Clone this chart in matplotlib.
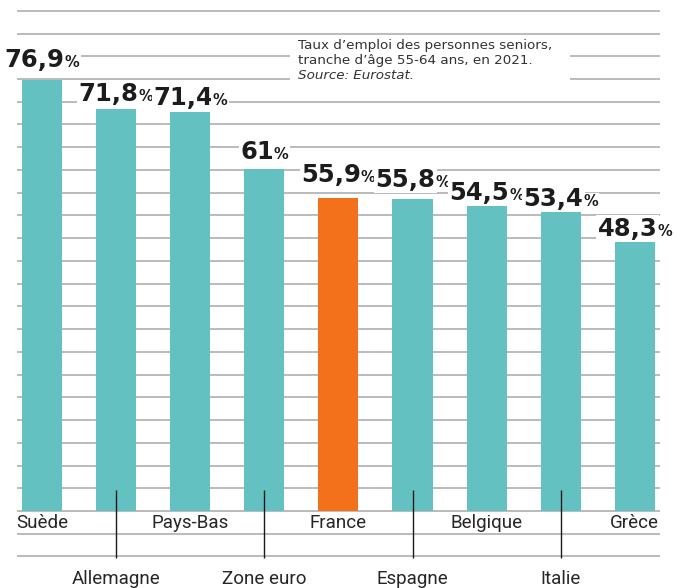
import matplotlib.pyplot as plt
from matplotlib.patches import Rectangle
import numpy as np

# data
countries = ["Suède", "Allemagne", "Pays-Bas", "Zone euro", "France",
             "Espagne", "Belgique", "Italie", "Grèce"]
values = [76.9, 71.8, 71.4, 61.0, 55.9, 55.8, 54.5, 53.4, 48.3]
value_labels = ["76,9", "71,8", "71,4", "61", "55,9", "55,8", "54,5", "53,4", "48,3"]
highlight = "France"

note_lines = ["Taux d\u2019emploi des personnes seniors,",
              "tranche d\u2019âge 55-64 ans, en 2021."]
note_source = "Source: Eurostat."

# style
TEAL = "#63c2c1"
ORANGE = "#f2711a"
GRID = "#a8a8a8"
label_gap = [13, 8, 6, 10, 16, 12, 6, 6, 5]   # px between bar top and its label
grid_step = 4.06

W, H, DPI = 690, 588, 100
fig = plt.figure(figsize=(W / DPI, H / DPI), dpi=DPI)
ax = fig.add_axes([0, 0, 1, 1])
ax.set_xlim(-0.567, 8.745)
ax.set_ylim(-13.75, 91.25)
ax.axis("off")

x = np.arange(len(countries))
colors = [ORANGE if c == highlight else TEAL for c in countries]
ax.bar(x, values, width=0.54, color=colors, zorder=3)

# horizontal rules
grid_vals = grid_step * np.arange(-2, 23)
ax.hlines(grid_vals, -0.34, 8.34, color=GRID, lw=1.1, zorder=1)

# white box behind the note
ax.add_patch(Rectangle((290 / W, 1 - 88 / H), 280 / W, 52 / H,
                       transform=fig.transFigure, fc="white", ec="none", zorder=2))
fig.text(298 / W, 1 - 39 / H, "\n".join(note_lines), fontsize=9.7,
         family="DejaVu Sans", color="#333333", va="top", linespacing=1.2)
fig.text(298 / W, 1 - 69 / H, note_source, fontsize=9.7, family="DejaVu Sans",
         style="italic", color="#333333", va="top")

# category labels, alternating rows
for i, name in enumerate(countries):
    if i % 2 == 0:
        ax.text(i, -2.1, name, ha="center", va="center", fontsize=13.5,
                family="Roboto", color="#262626", zorder=4)
    else:
        ax.vlines(i, -8.4, 3.75, color="#1a1a1a", lw=1.0, zorder=4)
        ax.text(i, -12.1, name, ha="center", va="center", fontsize=13.5,
                family="Roboto", color="#262626", zorder=4)

# value labels: big number + small percent sign
box = dict(facecolor="white", edgecolor="none", pad=1.0)
pairs = []
for i, (v, lab) in enumerate(zip(values, value_labels)):
    gap = label_gap[i] * 72 / DPI
    num = ax.annotate(lab, xy=(i, v), xytext=(0, gap), textcoords="offset points",
                      ha="right", va="baseline", fontsize=17.5, fontweight="bold",
                      family="DejaVu Sans", color="#1c1c1c", bbox=box, zorder=5)
    pct = ax.annotate("%", xy=(i, v), xytext=(0, gap), textcoords="offset points",
                      ha="left", va="baseline", fontsize=10.5, fontweight="bold",
                      family="DejaVu Sans", color="#1c1c1c", bbox=box, zorder=5)
    pairs.append((num, pct, gap))

fig.canvas.draw()
r = fig.canvas.get_renderer()
for num, pct, gap in pairs:
    wn = num.get_window_extent(r).width
    wp = pct.get_window_extent(r).width
    shift = (wn - wp) / 2 * 72 / DPI
    num.xyann = (shift, gap)
    pct.xyann = (shift, gap)

fig.savefig("out.png", dpi=DPI, facecolor="white")
